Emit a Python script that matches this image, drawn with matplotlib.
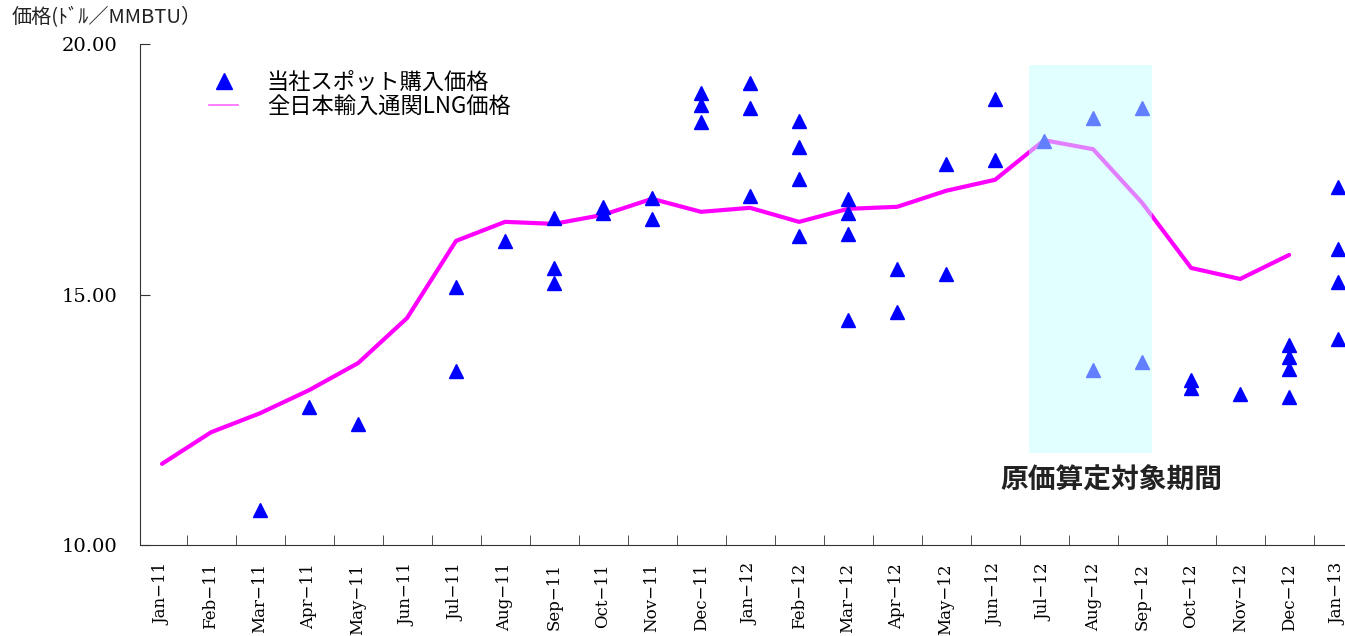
import matplotlib.pyplot as plt
from matplotlib.lines import Line2D
from matplotlib.patches import Rectangle

months = ['Jan−11', 'Feb−11', 'Mar−11', 'Apr−11', 'May−11', 'Jun−11', 'Jul−11',
          'Aug−11', 'Sep−11', 'Oct−11', 'Nov−11', 'Dec−11', 'Jan−12', 'Feb−12',
          'Mar−12', 'Apr−12', 'May−12', 'Jun−12', 'Jul−12', 'Aug−12', 'Sep−12',
          'Oct−12', 'Nov−12', 'Dec−12', 'Jan−13']

# 全日本輸入通関LNG価格 (Jan-13 not yet published)
lng_price = [11.62, 12.25, 12.63, 13.09, 13.63, 14.53, 16.07, 16.45, 16.41, 16.59,
             16.91, 16.65, 16.73, 16.45, 16.71, 16.75, 17.07, 17.29, 18.08, 17.90,
             16.83, 15.53, 15.31, 15.79]

# 当社スポット購入価格, one list per month
spot_price = [
    [], [], [10.70], [12.75], [12.42], [],
    [15.15, 13.47], [16.07], [16.53, 15.53, 15.23], [16.75, 16.63],
    [16.93, 16.51], [19.02, 18.78, 18.44], [19.22, 18.72, 16.97],
    [18.46, 17.94, 17.31, 16.17], [16.91, 16.63, 16.21, 14.49],
    [15.51, 14.65], [17.60, 15.41], [18.90, 17.68], [18.06],
    [18.52, 13.49], [18.72, 13.65], [13.29, 13.13], [13.01],
    [13.99, 13.75, 13.51, 12.95], [17.15, 15.91, 15.25, 14.11],
]

period_label = '原価算定対象期間'

jp = ['Noto Sans CJK JP', 'DejaVu Sans']
serif = 'DejaVu Serif'

fig = plt.figure(figsize=(13.45, 6.36), dpi=100)
ax = fig.add_axes([140 / 1345, 1 - 545 / 636, 1 - 140 / 1345, 501 / 636])

ax.plot(range(len(lng_price)), lng_price, color='#FF00FF', lw=3, zorder=2,
        solid_capstyle='round')

xs, ys = [], []
for i, vals in enumerate(spot_price):
    for v in vals:
        xs.append(i)
        ys.append(v)
ax.plot(xs, ys, ls='none', marker='^', ms=10, color='#0000FF', zorder=3)

# shaded costing period, drawn over the data
ax.add_patch(Rectangle((17.7, 11.84), 2.5, 7.74, facecolor='#C4FFFF',
                       edgecolor='none', alpha=0.5, zorder=4))
ax.text(19.37, 11.28, period_label, family=jp, fontsize=20, fontweight='bold',
        ha='center', va='center', color='#222222')

ax.set_xlim(-0.449, 24.14)
ax.set_ylim(10, 20)
ax.set_yticks([10, 15, 20])
ax.set_yticklabels(['10.00', '15.00', '20.00'], family=serif, fontsize=14)
ax.set_xticks(range(len(months)))
ax.set_xticklabels(months, rotation=90, family=serif, fontsize=12)
ax.set_xticks([k + 0.5 for k in range(len(months) - 1)], minor=True)
ax.tick_params(axis='x', which='major', length=0, pad=13)
ax.tick_params(axis='x', which='minor', direction='in', length=7, color='#333333')
ax.tick_params(axis='y', direction='in', length=7, color='#333333', pad=16)
for side in ['top', 'right']:
    ax.spines[side].set_visible(False)
for side in ['left', 'bottom']:
    ax.spines[side].set_color('#333333')

handles = [
    Line2D([], [], ls='none', marker='^', ms=12, color='#0000FF'),
    Line2D([], [], color='#FF66FF', lw=1.2),
]
ax.legend(handles, ['当社スポット購入価格', '全日本輸入通関LNG価格'],
          loc='upper left', bbox_to_anchor=(0.05, 0.965), frameon=False,
          prop={'family': jp, 'size': 16}, handlelength=1.3, handletextpad=1.3,
          labelspacing=0.05, borderaxespad=0)

fig.text(12 / 1345, 1 - 18 / 636, '価格(ﾄﾞﾙ／MMBTU）', family=jp, fontsize=14.5,
         ha='left', va='center', color='#222222')

fig.savefig('out.png', dpi=100)
